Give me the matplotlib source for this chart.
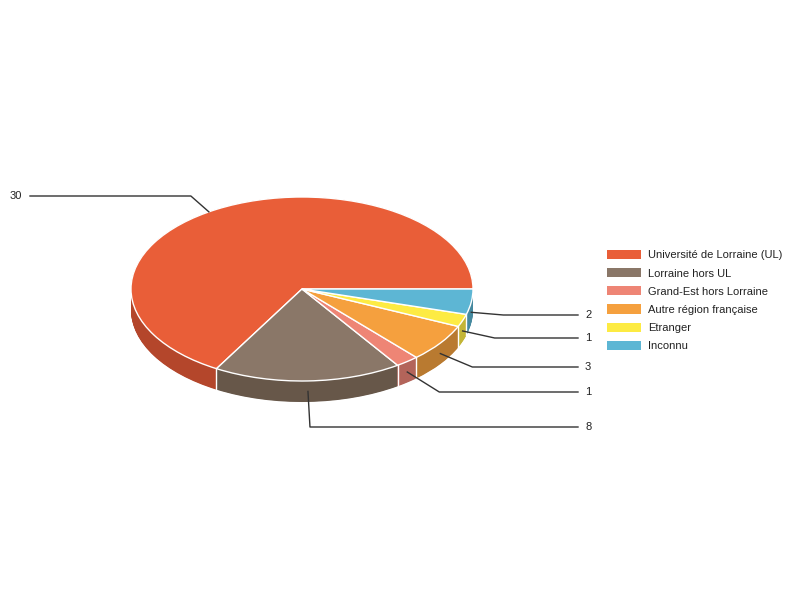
import numpy as np
import matplotlib
matplotlib.use("Agg")
import matplotlib.pyplot as plt
from matplotlib.patches import Patch

categories = ["Université de Lorraine (UL)", "Lorraine hors UL", "Grand-Est hors Lorraine",
              "Autre région française", "Etranger", "Inconnu"]
values = [30, 8, 1, 3, 1, 2]
top_colors = ["#E95E38", "#8A7768", "#EE8575", "#F5A03E", "#FDEB43", "#5DB6D4"]
side_colors = ["#B4462B", "#675749", "#B3645A", "#B97A30", "#C3B536", "#45899F"]

plt.rcParams['font.family'] = ['Liberation Sans', 'DejaVu Sans']
FS = 8.0

fig = plt.figure(figsize=(8, 6), dpi=100)
# overlay axes in pixel coords
ov = fig.add_axes([0, 0, 1, 1])
ov.set_xlim(0, 800)
ov.set_ylim(600, 0)
ov.axis('off')

# pie axes (squashed for 3D look)
cx, cy, rx, ry, dpx = 302, 289, 171, 92, 21
depth = dpx / ry
left = (cx - rx) / 800
width = 2 * rx / 800
bottom = (600 - (cy + ry + dpx)) / 600
height = (2 * ry + dpx) / 600
ax = fig.add_axes([left, bottom, width, height])
ax.set_zorder(0)
ov.set_zorder(1)
ov.patch.set_alpha(0)

n_layers = 40
for k in range(n_layers + 1):
    off = -depth + depth * k / n_layers
    ax.pie(values, colors=side_colors, startangle=0, counterclock=True,
           center=(0, off), radius=1, wedgeprops=dict(linewidth=0, antialiased=True),
           frame=False)
wedges, _ = ax.pie(values, colors=top_colors, startangle=0, counterclock=True,
                   center=(0, 0), radius=1,
                   wedgeprops=dict(edgecolor='white', linewidth=1))
ax.set_aspect('auto')
ax.set_xlim(-1, 1)
ax.set_ylim(-1 - depth, 1)
ax.axis('off')

total = sum(values)
bounds = np.concatenate([[0], np.cumsum(values)]) / total * 360.0
# white lines at slice boundaries on the visible front side
for b in bounds[1:-1]:
    t = np.deg2rad(b)
    if np.sin(t) < 0:
        ax.plot([np.cos(t), np.cos(t)], [np.sin(t), np.sin(t) - depth],
                color='white', lw=1, zorder=5)

def to_px(x, y):
    p = ax.transData.transform((x, y))
    return ov.transData.inverted().transform(p)

# leader lines and value labels
label_y = {0: 196, 1: 427, 2: 392, 3: 367, 4: 338, 5: 315}
for i, v in enumerate(values):
    mid = np.deg2rad((bounds[i] + bounds[i + 1]) / 2 + (3 if i == 0 else 0))
    if i == 0:
        ax_pt = to_px(np.cos(mid), np.sin(mid))
        ly = label_y[i]
        kx = ax_pt[0] - 18
        ov.plot([ax_pt[0], kx, 30], [ax_pt[1], ly, ly], color='#333333', lw=1)
        ov.text(22, ly, str(v), ha='right', va='center', fontsize=FS, color='#222222')
    else:
        ax_pt = to_px(np.cos(mid), np.sin(mid) - depth / 2)
        ly = label_y[i]
        if i == 1:
            kx = ax_pt[0] + 2
        else:
            kx = ax_pt[0] + 32
        ov.plot([ax_pt[0], kx, 578], [ax_pt[1], ly, ly], color='#333333', lw=1)
        ov.text(585, ly, str(v), ha='left', va='center', fontsize=FS, color='#222222')

handles = [Patch(facecolor=c, edgecolor='none') for c in top_colors]
fs_px = FS * 100 / 72
leg = ov.legend(handles, categories, loc='upper left',
                bbox_to_anchor=(607 / 800, 1 - 250 / 600), bbox_transform=fig.transFigure,
                frameon=False, fontsize=FS, borderpad=0, borderaxespad=0,
                handlelength=34 / fs_px, handleheight=10 / fs_px,
                labelspacing=(18.8 - fs_px) / fs_px, handletextpad=7 / fs_px)
for t in leg.get_texts():
    t.set_color('#222222')

fig.savefig("out.png", dpi=100, facecolor='white')
